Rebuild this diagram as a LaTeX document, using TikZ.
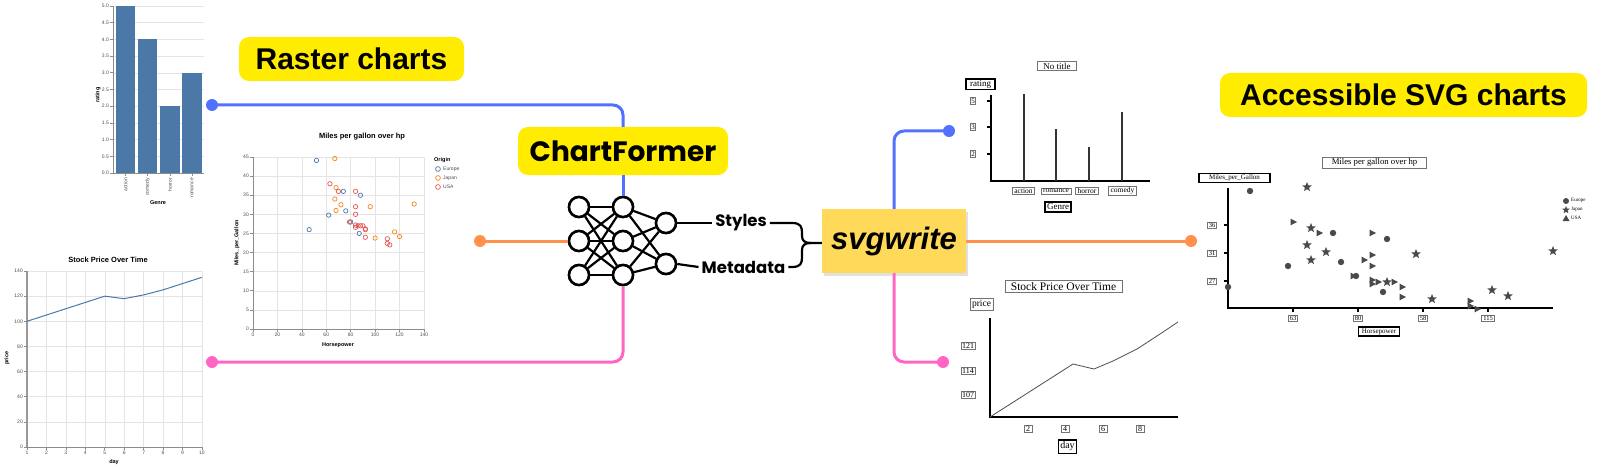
\documentclass[tikz,border=0pt]{standalone}
\usepackage{fontspec}
\setmainfont{Liberation Serif}
\newfontfamily\arialf{Liberation Sans}
\newfontfamily\popf{Poppins}
\usetikzlibrary{shapes.geometric}
\newcommand{\fsz}[1]{\fontsize{#1}{#1}\selectfont}
\definecolor{cblue}{HTML}{5271FF}
\definecolor{corange}{HTML}{FF914D}
\definecolor{cpink}{HTML}{FF66C4}
\definecolor{yel}{HTML}{FFEC00}
\definecolor{svgyel}{HTML}{FFD95A}
\definecolor{vblue}{HTML}{4C78A8}
\definecolor{vorange}{HTML}{F58518}
\definecolor{vred}{HTML}{E45756}
\definecolor{gridc}{HTML}{E4E4E4}
\definecolor{markc}{HTML}{4A4A4A}
\tikzset{
  conn/.style={line width=3pt, rounded corners=10pt},
  straightconn/.style={line width=3pt},
  dot/.style={circle, fill, inner sep=0pt, minimum size=12pt},
  nn/.style={circle, draw=black, line width=2.5pt, fill=white, minimum size=20pt, inner sep=0pt},
  nnedge/.style={line width=2.2pt},
  hl/.style={fill=yel, rounded corners=10pt, inner sep=0pt},
  tickf/.style={font=\arialf\fsz{5}, text=black!70, inner sep=1pt},
  atitle/.style={font=\arialf\bfseries\fsz{5.5}, inner sep=0pt},
  ctitle/.style={font=\arialf\bfseries\fsz{7.5}, inner sep=0pt},
  axisg/.style={draw=black!45, line width=0.6pt},
  gridl/.style={draw=gridc, line width=0.5pt},
  sbox/.style={draw=black!55, line width=0.6pt, fill=white, inner sep=1.5pt, font=\fsz{7}},
  abox/.style={sbox, draw=black, line width=1.1pt},
  saxis/.style={draw=black, line width=1.6pt},
  starm/.style={star, star points=5, star point ratio=2.3, fill=markc, inner sep=0pt, minimum size=10pt},
  nnlab/.style={font=\popf\bfseries\fsz{16.5}, inner sep=3pt},
}
\begin{document}
\begin{tikzpicture}[x=1pt,y=-1pt]
\useasboundingbox (0,0) rectangle (1611,468);

% ================= LEFT BAR CHART =================
\begin{scope}[shift={(113,173)}, y=33.4pt]
  \foreach \v in {0.5,1,...,5.0} \draw[gridl] (0,\v) -- (91,\v);
  \fill[vblue] (3,0) rectangle (22,5);
  \fill[vblue] (25,0) rectangle (44,4);
  \fill[vblue] (47,0) rectangle (67,2);
  \fill[vblue] (69,0) rectangle (89,3);
  \draw[axisg] (0,0) -- (0,5);
  \draw[axisg] (0,0) -- (91,0);
  \foreach \v/\t [count=\i] in {0/0.0,0.5/0.5,1/1.0,1.5/1.5,2/2.0,2.5/2.5,3/3.0,3.5/3.5,4/4.0,4.5/4.5,5/5.0} {
    \draw[axisg] (-3,\v) -- (0,\v);
    \node[tickf, anchor=east, name=bt\i] at (-3,\v) {\t};
  }
  \foreach \x/\t [count=\i] in {12.5/action,34.5/comedy,57/horror,79/romance} {
    \draw[axisg] (\x,0) -- ([yshift=-3pt]\x,0);
    \node[tickf, rotate=90, anchor=east, name=bx\i] at ([yshift=-4pt]\x,0) {\t};
  }
\end{scope}
\node[atitle, rotate=90] (barylab) at (98,95) {rating};
\node[atitle] (barxlab) at (158,203) {Genre};

% ================= LEFT SCATTER =================
\node[ctitle] (sctitle) at (362,137) {Miles per gallon over hp};
\begin{scope}[shift={(253,329)}, x=1.221pt, y=3.822pt]
  \foreach \v in {20,40,...,140} \draw[gridl] (\v,0) -- (\v,45);
  \foreach \v in {5,10,...,45} \draw[gridl] (0,\v) -- (140,\v);
  \draw[axisg] (0,0) -- (0,45);
  \draw[axisg] (0,0) -- (140,0);
  \foreach \v [count=\i] in {0,5,...,45} {
    \draw[axisg] (0,\v) -- ([xshift=-3pt]0,\v);
    \node[tickf, anchor=east, name=st\i] at ([xshift=-3pt]0,\v) {\v};
  }
  \foreach \v [count=\i] in {0,20,...,140} {
    \draw[axisg] (\v,0) -- ([yshift=-3pt]\v,0);
    \node[tickf, anchor=north, name=sx\i] at ([yshift=-3pt]\v,0) {\v};
  }
  \foreach \h/\m in {52/44.1,74/36,88/35,76/30.9,62/29.8,80/28,46/26,87/25}
    \draw[vblue, line width=0.7pt] (\h,\m) circle (2.2pt);
  \foreach \h/\m in {67/44.6,68/37,67/34,72/32.5,96/32,132/32.7,68/31,116/25.4,120/24.2,100/23.8}
    \draw[vorange, line width=0.7pt] (\h,\m) circle (2.2pt);
  \foreach \h/\m in {63/38,70/36,84/36,84/32,84/30,79/28,84/27.2,84/26.6,86/27,88/27,90/27,92/26,92/26.2,92/24,110/23.6,110/22.4,112/22}
    \draw[vred, line width=0.7pt] (\h,\m) circle (2.2pt);
\end{scope}
\node[atitle, rotate=90] (scylab) at (237,243) {Miles\_per\_Gallon};
\node[atitle] (scxlab) at (338,345) {Horsepower};
\node[atitle, anchor=west] (legt) at (434,160) {Origin};
\draw[vblue, line width=0.7pt] (438,169) circle (2.4pt);
\draw[vorange, line width=0.7pt] (438,178) circle (2.4pt);
\draw[vred, line width=0.7pt] (438,187) circle (2.4pt);
\node[tickf, anchor=west] (leg1) at (442,169) {Europe};
\node[tickf, anchor=west] (leg2) at (442,178) {Japan};
\node[tickf, anchor=west] (leg3) at (442,187) {USA};

% ================= LEFT STOCK CHART =================
\node[ctitle] (sttitle) at (108,260) {Stock Price Over Time};
\begin{scope}[shift={(27,447)}, x=19.44pt, y=1.257pt]
  \foreach \v in {1,...,9} \draw[gridl] (\v,0) -- (\v,140);
  \foreach \v in {20,40,...,140} \draw[gridl] (0,\v) -- (9,\v);
  \draw[draw=black!40, line width=1.2pt] (0,0) -- (0,140);
  \draw[axisg] (0,0) -- (9,0);
  \foreach \v [count=\i] in {0,20,...,140} {
    \draw[axisg] (0,\v) -- ([xshift=-3pt]0,\v);
    \node[tickf, anchor=east, name=pt\i] at ([xshift=-3pt]0,\v) {\v};
  }
  \foreach \v [count=\i] in {1,...,10} {
    \draw[axisg] (\v-1,0) -- ([yshift=-3pt]\v-1,0);
    \node[tickf, anchor=north, name=px\i] at ([yshift=-3pt]\v-1,0) {\v};
  }
  \draw[vblue, line width=1pt, line join=round] (0,100) -- (1,105) -- (2,110) -- (3,115) -- (4,120) -- (5,118) -- (6,121) -- (7,125) -- (8,130) -- (9,135);
\end{scope}
\node[atitle, rotate=90] (stylab) at (7,358) {price};
\node[atitle] (stxlab) at (114,462) {day};

% ================= LABELS =================
\node[hl, minimum width=225pt, minimum height=44pt, font=\arialf\bfseries\fsz{30}] (raster) at (351.5,59) {Raster charts};
\node[hl, minimum width=367pt, minimum height=44pt, font=\arialf\bfseries\fsz{30}] (access) at (1403.5,95) {Accessible SVG charts};
\node[hl, minimum width=210pt, minimum height=48pt, font=\popf\bfseries\fsz{28}] (cf) at (623,151) {ChartFormer};

% ================= NEURAL NET =================
\node[nn] (a1) at (579,207) {};
\node[nn] (a2) at (579,241) {};
\node[nn] (a3) at (579,275) {};
\node[nn] (b1) at (623,207) {};
\node[nn] (b2) at (623,241) {};
\node[nn] (b3) at (623,275) {};
\node[nn] (c1) at (666,223) {};
\node[nn] (c2) at (666,264) {};
\foreach \s in {a1,a2,a3} \foreach \t in {b1,b2,b3} \draw[nnedge] (\s) -- (\t);
\foreach \s in {b1,b2,b3} \foreach \t in {c1,c2} \draw[nnedge] (\s) -- (\t);
\foreach \n in {a1,a2,a3,b1,b2,b3,c1,c2} \node[nn] at (\n) {};

\node[nnlab] (styles) at (741,223) {Styles};
\node[nnlab] (meta) at (743.5,267) {Metadata};
\draw[nnedge] (c1.east) -- (styles.west);
\draw[nnedge] (c2.east) -- (meta.west);

% svgwrite box
\fill[black!12] (824,212) rectangle (968,276);
\node[fill=svgyel, minimum width=144pt, minimum height=64pt, inner sep=0pt, font=\arialf\bfseries\itshape\fsz{31}] (svg) at (894,241) {svgwrite};

% brace
\coordinate (btop) at (styles.east);
\coordinate (bbot) at (meta.east);
\draw[nnedge, line join=round] (btop) -- (792,223) .. controls (801,223) and (802,227) .. (802,233) -- (802,236) .. controls (802,241) and (805,243) .. (811,243) -- (svg.west |- 0,243);
\draw[nnedge, line join=round] (bbot) -- (792,267) .. controls (801,267) and (802,263) .. (802,257) -- (802,250) .. controls (802,245) and (805,243) .. (811,243);

% ================= CONNECTORS =================
\node[dot, fill=cblue] (dB) at (212,105) {};
\node[dot, fill=corange] (dO) at (480,241) {};
\node[dot, fill=cpink] (dP) at (212,362) {};
\node[dot, fill=cblue] (dB2) at (949,131) {};
\node[dot, fill=corange] (dO2) at (1191,241) {};
\node[dot, fill=cpink] (dP2) at (943,362) {};

\draw[conn, cblue] (dB.center) -- (623,105) -- (cf.north);
\draw[straightconn, cblue] (cf.south) -- (b1.north);
\draw[conn, cpink] (b3.south) -- (623,362) -- (dP.center);
\draw[straightconn, corange] (dO.center) -- (a2.west);
\draw[conn, cblue] (svg.north) -- (894,131) -- (dB2.center);
\draw[conn, cpink] (svg.south) -- (894,362) -- (dP2.center);
\draw[straightconn, corange] (svg.east) -- (dO2.center);

% ================= RIGHT BAR CHART =================
\node[sbox, font=\fsz{9}, inner xsep=6pt] (rbtitle) at (1057,66) {No title};
\node[abox, font=\fsz{9}, inner xsep=4pt] (rbylab) at (980.5,84.5) {rating};
\draw[saxis] (991,95) -- (991,181) -- (1150,181);
\foreach \y/\t [count=\i] in {101/5,127/3,154/2} {
  \draw[line width=1.2pt] (987,\y) -- (991,\y);
  \node[sbox, font=\fsz{7}, inner sep=1pt, name=rby\i] at (973,\y) {\t};
}
\foreach \x/\y in {1024/94,1056/129,1089/147,1122/112}
  \draw[line width=2pt, draw=black!80] (\x,181) -- (\x,\y);
\foreach \x/\t [count=\i] in {1023.5/action,1056/romance,1087/horror,1122.5/comedy}
  \node[sbox, font=\fsz{7.5}, inner sep=1pt, inner xsep=2pt, name=rbx\i] at (\x,191) {\t};
\node[abox, font=\fsz{9}, inner sep=2pt] (rbxlab) at (1058,207) {Genre};

% ================= RIGHT SCATTER =================
\node[sbox, font=\fsz{8.7}, inner xsep=9pt] (rstitle) at (1374.5,162.5) {Miles per gallon over hp};
\node[abox, font=\fsz{7}, inner xsep=10pt] (rsylab) at (1234.5,178) {Miles\_per\_Gallon};
\draw[saxis, line width=1.4pt] (1228,188) -- (1228,308) -- (1553,308);
\foreach \y/\t [count=\i] in {225/36,253/31,281/27} {
  \draw[line width=1.2pt] (1224,\y) -- (1228,\y);
  \node[sbox, font=\fsz{6.5}, inner sep=1pt, name=rsy\i] at (1212,\y) {\t};
}
\foreach \x/\t [count=\i] in {1293/63,1358/80,1423/58,1488/115} {
  \draw[line width=1.2pt] (\x,308) -- (\x,312);
  \node[sbox, font=\fsz{6.5}, inner sep=1pt, inner xsep=1.5pt, name=rsx\i] at (\x,318) {\t};
}
\node[abox, font=\fsz{7}, inner sep=1.5pt, inner xsep=3pt] (rsxlab) at (1379,331.5) {Horsepower};
\foreach \x/\y in {1250/191,1228/287,1288/266,1333/233,1341/262,1356/276,1387/239,1383/292}
  \fill[markc] (\x,\y) circle (3.2pt);
\foreach \x/\y [count=\i] in {1307/187,1311/228,1307/245,1311/260,1326/252,1387/282,1416/254,1432/299,1492/290,1508/296,1553/251}
  \node[starm, name=rstar\i] at (\x,\y) {};
\foreach \x/\y in {1293/222,1319/233,1372/233,1372/255,1372/266,1364/260,1353/276,1372/280,1372/284,1378/282,1394/282,1402/287,1402/297,1470/301,1470/306,1477/309}
  \fill[markc] (\x,\y) ++(-2.5,-3.4) -- ++(6.5,3.4) -- ++(-6.5,3.4) -- cycle;
\fill[markc] (1566,201) circle (3pt);
\node[starm, minimum size=8pt] (lstar) at (1566,210) {};
\fill[markc] (1566,215) -- (1569.5,221) -- (1562.5,221) -- cycle;
\node[font=\fsz{5}, anchor=west, inner sep=0pt] (rl1) at (1571,200) {Europe};
\node[font=\fsz{5}, anchor=west, inner sep=0pt] (rl2) at (1571,209) {Japan};
\node[font=\fsz{5}, anchor=west, inner sep=0pt] (rl3) at (1571,218) {USA};

% ================= RIGHT LINE CHART =================
\node[sbox, font=\fsz{11.5}, inner sep=2pt, inner xsep=6pt] (rltitle) at (1063.5,286.5) {Stock Price Over Time};
\node[sbox, font=\fsz{9.5}, inner sep=2pt] (rlylab) at (981.5,304) {price};
\draw[saxis, line width=1.8pt] (990,318) -- (990,417) -- (1178,417);
\draw[black!70, line width=0.8pt, line join=round] (990,417) -- (1073,364) -- (1094,369) -- (1113,361) -- (1137,349) -- (1160,334) -- (1178,322);
\foreach \y/\t [count=\i] in {346/121,371/114,395/107}
  \node[sbox, font=\fsz{8}, inner sep=1pt, name=rly\i] at (968,\y) {\t};
\foreach \x/\t [count=\i] in {1028/2,1065/4,1103/6,1140/8}
  \node[sbox, font=\fsz{8}, inner sep=1pt, inner xsep=2pt, name=rlx\i] at (\x,429) {\t};
\node[abox, font=\fsz{10}, inner sep=2pt] (rlxlab) at (1067.5,446.5) {day};
\end{tikzpicture}
\end{document}
